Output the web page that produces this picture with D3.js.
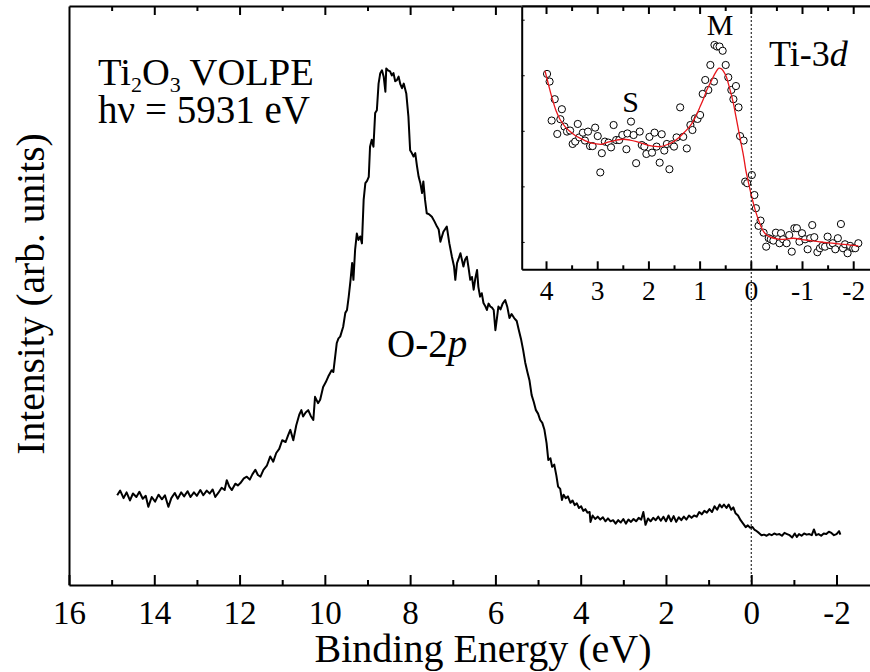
<!DOCTYPE html>
<html>
<head>
<meta charset="utf-8">
<script src="https://cdn.jsdelivr.net/npm/d3@7"></script>
<style>
  html, body { margin: 0; padding: 0; background: #fff; }
  svg { display: block; }
  text { font-family: "Liberation Serif", "Times New Roman", serif; fill: #000; }
</style>
</head>
<body>
<div id="chart"></div>
<script>
// ---------- DATA ----------
// Main O-2p valence band spectrum: [binding energy (eV), intensity (arb.)]
const o2pSpectrum = [
  [14.87,15.5],[14.8,16.3],[14.72,15.0],[14.65,16.0],[14.57,14.6],[14.5,15.8],[14.42,15.2],[14.35,16.1],[14.27,14.9],[14.2,15.4],
  [14.14,13.5],[14.06,15.2],[13.98,14.4],[13.9,15.6],[13.82,14.8],[13.75,15.5],[13.67,13.5],[13.6,15.0],[13.52,15.9],[13.45,14.9],
  [13.37,16.0],[13.3,15.3],[13.22,16.2],[13.15,15.2],[13.07,16.0],[13.0,15.4],[12.92,16.4],[12.85,15.5],[12.77,16.3],[12.7,15.8],
  [12.63,16.5],[12.57,15.2],[12.5,15.9],[12.42,16.8],[12.35,16.4],[12.3,18.1],[12.24,17.0],[12.18,16.4],[12.1,17.5],[12.04,17.2],
  [11.98,17.6],[11.9,18.4],[11.83,18.7],[11.76,18.2],[11.7,19.1],[11.63,19.9],[11.57,19.0],[11.51,18.7],[11.44,19.9],[11.36,20.6],
  [11.28,22.2],[11.21,21.3],[11.14,22.8],[11.07,23.5],[11.0,25.0],[10.92,24.7],[10.86,25.9],[10.81,26.8],[10.74,25.0],[10.67,27.6],
  [10.6,29.4],[10.55,30.2],[10.51,29.1],[10.45,29.8],[10.39,30.2],[10.33,29.2],[10.27,28.5],[10.23,32.5],[10.16,31.4],[10.11,32.0],
  [10.04,34.2],[9.98,35.0],[9.92,36.0],[9.84,37.1],[9.8,36.8],[9.72,41.8],[9.68,42.6],[9.64,42.9],[9.57,44.6],[9.52,47.0],
  [9.48,47.5],[9.44,49.8],[9.4,52.5],[9.36,55.6],[9.33,52.7],[9.29,57.9],[9.25,60.7],[9.21,59.6],[9.17,60.2],[9.13,59.0],
  [9.09,66.5],[9.05,69.4],[9.01,69.8],[8.97,70.5],[8.94,75.7],[8.9,76.9],[8.86,75.7],[8.82,81.5],[8.78,82.0],[8.74,86.6],
  [8.7,88.4],[8.66,88.9],[8.62,87.8],[8.58,85.2],[8.56,89.2],[8.52,88.9],[8.47,88.7],[8.43,88.0],[8.39,88.4],[8.35,87.0],
  [8.31,87.2],[8.27,87.8],[8.23,86.5],[8.19,85.8],[8.15,86.6],[8.09,84.9],[8.04,80.9],[8.0,75.1],[7.96,74.6],[7.92,74.0],
  [7.88,74.6],[7.84,72.4],[7.8,70.5],[7.76,69.4],[7.72,67.7],[7.69,69.7],[7.65,66.5],[7.61,64.2],[7.55,64.0],[7.49,63.6],
  [7.43,62.8],[7.37,61.9],[7.33,61.4],[7.29,59.3],[7.22,61.0],[7.14,61.9],[7.08,59.0],[7.02,56.7],[6.97,55.0],[6.94,52.7],
  [6.9,55.6],[6.86,56.4],[6.82,57.3],[6.78,56.0],[6.75,55.0],[6.71,56.2],[6.67,56.7],[6.63,54.8],[6.59,52.7],[6.55,53.2],
  [6.51,51.0],[6.47,53.0],[6.43,54.4],[6.4,51.5],[6.36,49.8],[6.32,50.4],[6.28,48.7],[6.24,48.2],[6.2,47.5],[6.16,48.6],
  [6.12,48.1],[6.08,47.9],[6.04,47.5],[6.0,44.0],[5.96,46.3],[5.93,48.1],[5.88,47.6],[5.83,48.6],[5.77,49.2],[5.72,48.0],
  [5.67,46.1],[5.62,46.8],[5.56,46.1],[5.5,45.6],[5.45,44.0],[5.4,42.5],[5.35,40.6],[5.3,38.4],[5.25,36.8],[5.2,35.3],
  [5.15,32.8],[5.1,31.6],[5.05,30.2],[5.0,29.6],[4.95,28.5],[4.9,28.0],[4.85,26.8],[4.8,24.5],[4.76,21.6],[4.71,21.9],
  [4.67,20.4],[4.62,20.8],[4.57,18.9],[4.53,17.0],[4.48,16.6],[4.44,14.7],[4.4,15.6],[4.35,15.0],[4.3,15.3],[4.24,14.2],
  [4.19,14.6],[4.14,13.8],[4.09,14.1],[4.04,13.3],[3.99,13.6],[3.94,12.8],[3.89,13.1],[3.84,12.5],[3.79,12.6],[3.77,10.9],
  [3.72,12.0],[3.66,11.4],[3.6,11.8],[3.54,11.3],[3.48,11.7],[3.42,11.0],[3.36,11.5],[3.3,11.0],[3.24,11.2],[3.18,10.6],
  [3.12,11.2],[3.06,10.8],[3.0,11.4],[2.94,10.6],[2.88,11.3],[2.82,10.9],[2.76,11.4],[2.7,11.0],[2.64,11.6],[2.58,11.3],
  [2.53,12.6],[2.48,10.4],[2.42,11.5],[2.36,11.0],[2.3,11.6],[2.24,11.2],[2.18,11.8],[2.12,11.1],[2.06,11.8],[2.0,11.0],
  [1.94,12.0],[1.88,11.0],[1.82,11.9],[1.76,10.9],[1.7,11.7],[1.64,11.2],[1.58,11.8],[1.52,11.3],[1.46,12.0],[1.4,11.6],
  [1.34,12.0],[1.28,11.8],[1.22,12.6],[1.16,12.2],[1.1,12.8],[1.04,12.5],[0.98,13.1],[0.92,12.6],[0.86,13.6],[0.8,13.0],
  [0.74,13.9],[0.69,13.4],[0.64,13.9],[0.58,13.3],[0.53,13.9],[0.47,13.0],[0.42,13.4],[0.37,12.4],[0.31,12.0],[0.25,11.2],
  [0.19,10.6],[0.13,10.0],[0.08,10.3],[0.03,9.9],[-0.03,10.0],[-0.08,9.5],[-0.13,9.3],[-0.18,9.0],[-0.24,8.6],[-0.3,8.7],
  [-0.36,8.5],[-0.42,8.8],[-0.48,8.6],[-0.54,8.9],[-0.6,8.7],[-0.66,8.8],[-0.72,8.5],[-0.78,9.0],[-0.84,8.8],[-0.9,8.6],
  [-0.96,8.2],[-1.02,8.9],[-1.07,8.3],[-1.12,8.8],[-1.18,8.5],[-1.24,8.9],[-1.3,8.7],[-1.36,8.8],[-1.42,8.6],[-1.47,9.6],
  [-1.52,8.6],[-1.58,8.8],[-1.64,8.5],[-1.7,8.9],[-1.76,8.8],[-1.82,9.2],[-1.88,9.0],[-1.94,8.6],[-2.0,8.8],[-2.06,9.3],
  [-2.09,8.7]
];

// Inset Ti-3d data points: [binding energy (eV), intensity (arb.)]
const ti3dPoints = [
  [3.98,74.2],[3.93,71.3],[3.83,64.6],[3.89,56.5],[3.69,60.8],[3.78,51.4],[3.72,57.0],[3.64,54.2],[3.59,52.3],[3.53,52.7],
  [3.48,47.6],[3.43,48.5],[3.38,55.2],[3.35,50.1],[3.28,51.9],[3.24,48.9],[3.18,52.3],[3.14,46.8],[3.09,46.8],[3.04,53.8],
  [2.99,50.6],[2.91,44.1],[2.94,36.8],[2.85,48.5],[2.78,48.1],[2.73,46.3],[2.68,54.8],[2.63,49.1],[2.57,49.1],[2.51,51.0],
  [2.43,45.6],[2.41,51.6],[2.34,56.1],[2.29,51.0],[2.24,40.3],[2.17,52.3],[2.13,47.2],[2.08,46.6],[2.04,43.8],[1.98,50.3],
  [1.93,44.3],[1.88,51.9],[1.84,46.6],[1.78,40.5],[1.74,51.3],[1.69,45.1],[1.64,47.6],[1.59,38.0],[1.54,47.5],[1.50,46.6],
  [1.45,50.1],[1.38,61.5],[1.32,50.3],[1.25,45.9],[1.18,54.8],[1.14,52.9],[1.09,57.3],[1.04,57.1],[0.99,58.6],[0.94,66.6],
  [0.89,71.9],[0.83,68.1],[0.79,77.6],[0.72,71.3],[0.71,85.2],[0.66,84.6],[0.61,84.6],[0.55,83.0],[0.49,77.6],[0.44,72.9],
  [0.38,68.1],[0.34,64.6],[0.29,69.6],[0.24,61.5],[0.21,50.6],[0.14,48.9],[0.11,33.3],[0.07,32.7],[-0.02,35.8],[-0.07,28.2],
  [-0.10,23.2],[-0.15,16.5],[-0.19,18.5],[-0.25,13.9],[-0.30,8.6],[-0.35,11.8],[-0.39,11.4],[-0.44,10.9],[-0.49,13.9],[-0.56,9.9],
  [-0.59,13.7],[-0.63,11.4],[-0.70,9.9],[-0.75,13.0],[-0.80,6.7],[-0.85,15.6],[-0.90,15.6],[-0.95,10.5],[-1.00,13.7],[-1.06,11.4],
  [-1.11,7.6],[-1.16,11.8],[-1.20,16.8],[-1.24,12.2],[-1.30,6.5],[-1.35,8.0],[-1.40,8.9],[-1.45,8.6],[-1.50,12.4],[-1.55,9.2],
  [-1.60,9.9],[-1.65,7.6],[-1.70,11.8],[-1.76,17.2],[-1.80,8.0],[-1.84,9.5],[-1.89,6.1],[-1.94,8.9],[-2.00,8.0],[-2.04,8.0],
  [-2.10,9.9]
];

// Inset fitted curve (red)
const ti3dFit = [
  [4.02,75.4],[3.95,70.0],[3.89,65.6],[3.80,60.0],[3.72,56.7],[3.62,54.0],[3.53,52.3],[3.43,50.8],[3.33,49.7],[3.23,48.8],
  [3.14,48.1],[3.02,47.6],[2.91,47.5],[2.83,48.0],[2.75,48.5],[2.62,49.1],[2.49,49.4],[2.36,49.1],[2.23,48.5],[2.10,47.7],
  [1.97,47.0],[1.87,46.7],[1.77,46.6],[1.64,47.3],[1.51,48.5],[1.42,49.8],[1.32,51.6],[1.23,53.4],[1.15,55.4],[1.07,58.3],
  [0.99,61.8],[0.92,65.0],[0.86,68.1],[0.79,70.8],[0.73,73.2],[0.68,75.0],[0.63,76.3],[0.58,76.2],[0.53,75.1],[0.48,73.2],
  [0.44,70.6],[0.39,67.0],[0.34,63.0],[0.29,58.0],[0.24,52.9],[0.19,47.8],[0.14,42.8],[0.10,37.9],[0.05,33.3],[0.00,28.9],
  [-0.05,25.1],[-0.10,21.6],[-0.15,18.7],[-0.20,16.2],[-0.25,14.3],[-0.31,13.0],[-0.38,12.2],[-0.47,11.7],[-0.57,11.4],[-0.70,11.5],
  [-0.83,11.8],[-1.00,11.3],[-1.16,10.9],[-1.32,10.5],[-1.48,10.1],[-1.65,9.8],[-1.81,9.5],[-1.95,9.2],[-2.10,8.9]
];

// Tick values and labels
const mainMajorTicks = [16, 14, 12, 10, 8, 6, 4, 2, 0, -2];
const mainMinorTicks = [15, 13, 11, 9, 7, 5, 3, 1, -1];
const mainTopMajorTicks = [14, 12, 10, 8, 6];
const mainTopMinorTicks = [15, 13, 11, 9, 7];
const insetMajorTicks = [4, 3, 2, 1, 0, -1, -2];
const insetMinorTicks = [3.5, 2.5, 1.5, 0.5, -0.5, -1.5];
const insetYTicks = [10.4, 31.5, 52.6, 73.7, 94.8];

// ---------- LAYOUT ----------
const W = 870, H = 672;
const main = { left: 69, right: 870, top: 6, bottom: 585 };
const inset = { left: 521.7, right: 870, top: 6, bottom: 269.3 };
const serif = '"Liberation Serif","Times New Roman",serif';

const svg = d3.select("#chart").append("svg")
  .attr("width", W).attr("height", H)
  .attr("viewBox", `0 0 ${W} ${H}`);
svg.append("rect").attr("width", W).attr("height", H).attr("fill", "#fff");

// Scales
const x = d3.scaleLinear().domain([16, -2.785]).range([main.left, main.right]);
const y = d3.scaleLinear().domain([0, 100]).range([main.bottom, main.top]);
const xi = d3.scaleLinear().domain([4.475, -2.328]).range([inset.left, inset.right]);
const yi = d3.scaleLinear().domain([0, 100]).range([inset.bottom, inset.top]);

const fmt = d => String(d);

function styleAxis(g, width) {
  g.attr("font-family", serif);
  g.selectAll("path.domain").attr("stroke", "#000").attr("stroke-width", width);
  g.selectAll(".tick line").attr("stroke", "#000").attr("stroke-width", width);
}

// ---- Main bottom axis ----
const gB = svg.append("g").attr("transform", `translate(0,${main.bottom})`)
  .call(d3.axisBottom(x).tickValues(mainMajorTicks).tickSizeInner(-10).tickSizeOuter(0).tickFormat(fmt));
styleAxis(gB, 2);
gB.selectAll("text").attr("dy", null).attr("y", 39)
  .attr("font-family", serif).attr("font-size", 33)
  .style("font-size", "33px").style("font-family", serif);
const gBm = svg.append("g").attr("transform", `translate(0,${main.bottom})`)
  .call(d3.axisBottom(x).tickValues(mainMinorTicks).tickSizeInner(-5).tickSizeOuter(0).tickFormat(""));
gBm.select("path.domain").remove();
styleAxis(gBm, 2);

// ---- Main top axis (mirror ticks) ----
const gT = svg.append("g").attr("transform", `translate(0,${main.top})`)
  .call(d3.axisTop(x).tickValues(mainTopMajorTicks).tickSizeInner(-9).tickSizeOuter(0).tickFormat(""));
styleAxis(gT, 2);
const gTm = svg.append("g").attr("transform", `translate(0,${main.top})`)
  .call(d3.axisTop(x).tickValues(mainTopMinorTicks).tickSizeInner(-5).tickSizeOuter(0).tickFormat(""));
gTm.select("path.domain").remove();
styleAxis(gTm, 2);

// ---- Main left axis ----
const gL = svg.append("g").attr("transform", `translate(${main.left},0)`)
  .call(d3.axisLeft(y).tickValues([]).tickSizeOuter(0));
styleAxis(gL, 2);

// ---- Main curve ----
const line = d3.line().x(d => x(d[0])).y(d => y(d[1]));
svg.append("path").datum(o2pSpectrum)
  .attr("d", line).attr("fill", "none").attr("stroke", "#000")
  .attr("stroke-width", 2).attr("stroke-linejoin", "round");

// ---- Inset ----
svg.append("rect")
  .attr("x", inset.left).attr("y", inset.top)
  .attr("width", inset.right - inset.left).attr("height", inset.bottom - inset.top)
  .attr("fill", "#fff");

const giB = svg.append("g").attr("transform", `translate(0,${inset.bottom})`)
  .call(d3.axisBottom(xi).tickValues(insetMajorTicks).tickSizeInner(-8).tickSizeOuter(0).tickFormat(fmt));
styleAxis(giB, 2);
giB.selectAll("text").attr("dy", null).attr("y", 31)
  .attr("font-family", serif).attr("font-size", 27.5)
  .style("font-size", "27.5px").style("font-family", serif);
const giBm = svg.append("g").attr("transform", `translate(0,${inset.bottom})`)
  .call(d3.axisBottom(xi).tickValues(insetMinorTicks).tickSizeInner(-4).tickSizeOuter(0).tickFormat(""));
giBm.select("path.domain").remove();
styleAxis(giBm, 2);

const giT = svg.append("g").attr("transform", `translate(0,${inset.top})`)
  .call(d3.axisTop(xi).tickValues(insetMajorTicks).tickSizeInner(-8).tickSizeOuter(0).tickFormat(""));
styleAxis(giT, 2);
const giTm = svg.append("g").attr("transform", `translate(0,${inset.top})`)
  .call(d3.axisTop(xi).tickValues(insetMinorTicks).tickSizeInner(-5).tickSizeOuter(0).tickFormat(""));
giTm.select("path.domain").remove();
styleAxis(giTm, 2);

const giL = svg.append("g").attr("transform", `translate(${inset.left},0)`)
  .call(d3.axisLeft(yi).tickValues(insetYTicks).tickSizeInner(-3).tickSizeOuter(0).tickFormat(""));
styleAxis(giL, 2);
giL.selectAll(".tick line").attr("stroke-width", 1);

// Inset points
svg.append("g").selectAll("circle").data(ti3dPoints).join("circle")
  .attr("cx", d => xi(d[0])).attr("cy", d => yi(d[1])).attr("r", 3.6)
  .attr("fill", "#fff").attr("stroke", "#000").attr("stroke-width", 1);

// Inset fit
const lineI = d3.line().x(d => xi(d[0])).y(d => yi(d[1])).curve(d3.curveCatmullRom);
svg.append("path").datum(ti3dFit)
  .attr("d", lineI).attr("fill", "none").attr("stroke", "#e8161b").attr("stroke-width", 1.3);

// ---- Fermi level dotted line (E = 0) ----
svg.append("line")
  .attr("x1", x(0)).attr("x2", x(0))
  .attr("y1", main.top + 2).attr("y2", main.bottom)
  .attr("stroke", "#000").attr("stroke-width", 1).attr("stroke-dasharray", "2,2");

// ---- Labels ----
svg.append("text")
  .attr("transform", `translate(44,294) rotate(-90)`)
  .attr("text-anchor", "middle")
  .style("font-size", "39.5px").style("font-family", serif)
  .text("Intensity (arb. units)");

svg.append("text")
  .attr("x", 483).attr("y", 662)
  .attr("text-anchor", "middle")
  .style("font-size", "40px").style("font-family", serif)
  .text("Binding Energy (eV)");

const t1 = svg.append("text").attr("x", 98).attr("y", 85)
  .style("font-size", "38.5px").style("font-family", serif);
t1.append("tspan").text("Ti");
t1.append("tspan").attr("dy", 7).style("font-size", "22px").text("2");
t1.append("tspan").attr("dy", -7).text("O");
t1.append("tspan").attr("dy", 7).style("font-size", "22px").text("3");
t1.append("tspan").attr("dy", -7).text(" VOLPE");

svg.append("text").attr("x", 98).attr("y", 123)
  .style("font-size", "39px").style("font-family", serif)
  .text("h\u03bd = 5931 eV");

const t3 = svg.append("text").attr("x", 387).attr("y", 357)
  .style("font-size", "39px").style("font-family", serif);
t3.append("tspan").text("O-2");
t3.append("tspan").style("font-style", "italic").text("p");

svg.append("text").attr("x", 720).attr("y", 35).attr("text-anchor", "middle")
  .style("font-size", "30px").style("font-family", serif).text("M");
svg.append("text").attr("x", 630.5).attr("y", 111.5).attr("text-anchor", "middle")
  .style("font-size", "30px").style("font-family", serif).text("S");

const t4 = svg.append("text").attr("x", 769).attr("y", 65.5)
  .style("font-size", "36px").style("font-family", serif);
t4.append("tspan").text("Ti-3");
t4.append("tspan").style("font-style", "italic").text("d");
</script>
</body>
</html>
